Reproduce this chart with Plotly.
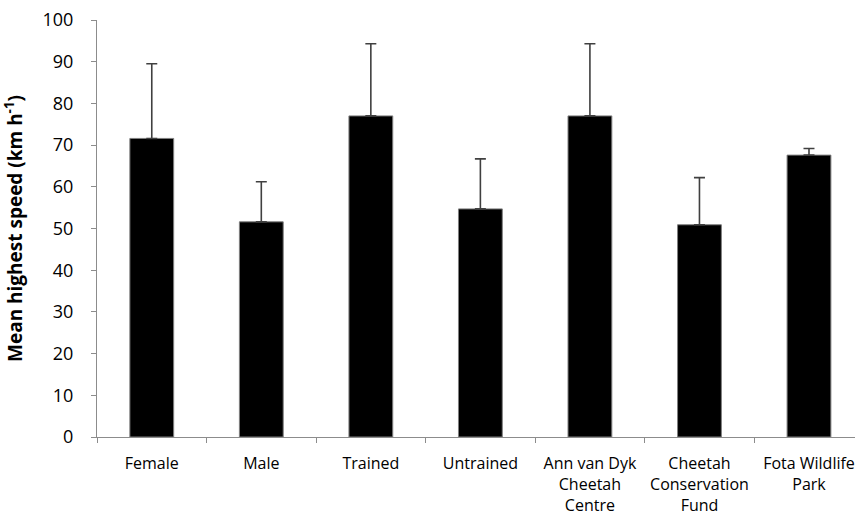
import plotly.graph_objects as go

categories = ["Female", "Male", "Trained", "Untrained",
              "Ann van Dyk<br>Cheetah<br>Centre",
              "Cheetah<br>Conservation<br>Fund",
              "Fota Wildlife<br>Park"]
mean_speed = [71.6, 51.6, 77.0, 54.7, 77.0, 50.9, 67.6]
sd_upper = [17.9, 9.6, 17.3, 12.0, 17.3, 11.3, 1.6]
y_ticks = [0, 10, 20, 30, 40, 50, 60, 70, 80, 90, 100]

FONT = "Open Sans"
AXIS_GREY = "#8c8c8c"

fig = go.Figure()
fig.add_trace(go.Bar(
    x=categories, y=mean_speed,
    marker=dict(color="black", line=dict(color="#7f7f7f", width=1)),
    width=0.4,
    error_y=dict(type="data", array=sd_upper, symmetric=False,
                 arrayminus=[0] * len(sd_upper),
                 color="#404040", thickness=1.6, width=5.5),
    hoverinfo="skip",
))

fig.update_layout(
    width=855, height=516,
    margin=dict(l=97, r=0, t=20, b=79),
    plot_bgcolor="white", paper_bgcolor="white",
    showlegend=False,
    font=dict(family=FONT, color="black"),
)
fig.update_xaxes(
    range=[-0.5, 6.42], automargin=False,
    showline=True, linecolor=AXIS_GREY, linewidth=1,
    ticks="outside", tickson="boundaries", ticklen=5, tickcolor=AXIS_GREY,
    tickfont=dict(size=16, family=FONT, color="black"),
    showgrid=False, tickangle=0, ticklabelstandoff=12,
)
fig.update_yaxes(
    range=[0, 100], tickvals=y_ticks, automargin=False,
    showline=True, linecolor=AXIS_GREY, linewidth=1,
    ticks="outside", ticklen=5, tickcolor=AXIS_GREY,
    tickfont=dict(size=18, family=FONT, color="black"),
    showgrid=False, zeroline=False, ticklabelstandoff=14,
    title=dict(text="<b>Mean highest speed (km h<sup>-1</sup>)</b>",
               font=dict(size=19, family=FONT, color="black"), standoff=17),
)

fig.write_html(
    "out.html",
    config={"displayModeBar": False},
    post_script="document.body.style.margin='0';document.body.style.overflow='hidden';",
)
